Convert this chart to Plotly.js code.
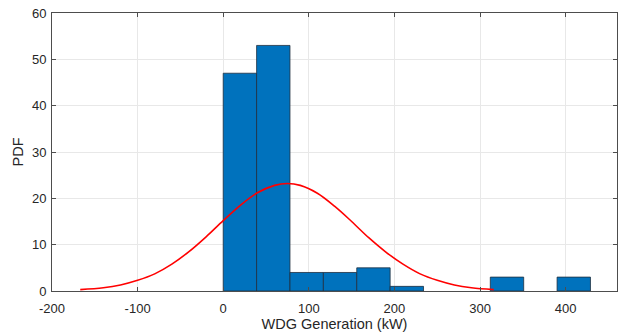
<!DOCTYPE html>
<html>
<head>
<meta charset="utf-8">
<script src="https://cdn.plot.ly/plotly-3.0.1.min.js"></script>
<style>html,body{margin:0;padding:0;background:#fff;}#chart{width:619px;height:336px;}</style>
</head>
<body>
<div id="chart"></div>
<script>
// Histogram bin edges (kW) and counts
const binEdges = [0, 39, 78, 117, 156, 195, 234, 273, 312, 351, 390, 429];
const binCounts = [47, 53, 4, 4, 5, 1, 0, 0, 3, 0, 3];

const curveX = [-167, -140, -120, -100, -80, -60, -40, -20, 0, 20, 40, 60, 75, 90, 110, 130, 150, 170, 190, 210, 230, 250, 270, 290, 316];
const curveY = [0.3, 0.7, 1.3, 2.3, 3.7, 5.8, 8.5, 11.7, 15.2, 18.5, 21.2, 22.8, 23.2, 22.8, 21.1, 18.3, 15.0, 11.5, 8.4, 5.8, 3.7, 2.3, 1.3, 0.7, 0.3];

const xTicks = [-200, -100, 0, 100, 200, 300, 400];
const yTicks = [0, 10, 20, 30, 40, 50, 60];

const centers = [], widths = [], outline = [];
for (let i = 0; i < binCounts.length; i++) {
  centers.push((binEdges[i] + binEdges[i + 1]) / 2);
  widths.push(binEdges[i + 1] - binEdges[i]);
  outline.push(binCounts[i] > 0 ? 0.8 : 0);
}

const bars = {
  type: 'bar', x: centers, y: binCounts, width: widths,
  marker: {color: '#0072BD', line: {color: '#1f2f3f', width: outline}},
  hoverinfo: 'skip', showlegend: false
};
const curve = {
  type: 'scatter', mode: 'lines', x: curveX, y: curveY,
  line: {color: '#ff0000', width: 1.6, shape: 'spline', smoothing: 1.0},
  hoverinfo: 'skip', showlegend: false
};

const axisCommon = {
  showline: true, linecolor: '#4d4d4d', linewidth: 1, mirror: 'ticks',
  ticks: 'inside', ticklen: 4, tickcolor: '#4d4d4d', tickwidth: 1,
  showgrid: true, gridcolor: '#e8e8e8', gridwidth: 1, zeroline: false,
  tickfont: {family: 'Liberation Sans, Arial, sans-serif', size: 13, color: '#262626'}
};

const layout = {
  width: 619, height: 336,
  margin: {l: 52, r: 2, t: 13, b: 45},
  paper_bgcolor: '#ffffff', plot_bgcolor: '#ffffff',
  bargap: 0,
  xaxis: Object.assign({}, axisCommon, {
    range: [-200, 460], tickmode: 'array', tickvals: xTicks, ticktext: xTicks.map(String),
    ticklabelstandoff: 5,
    title: {text: 'WDG Generation (kW)', standoff: 4,
      font: {family: 'Liberation Sans, Arial, sans-serif', size: 14.5, color: '#262626'}}
  }),
  yaxis: Object.assign({}, axisCommon, {
    range: [0, 60], tickmode: 'array', tickvals: yTicks, ticktext: yTicks.map(String),
    ticklabelstandoff: 2,
    title: {text: 'PDF', standoff: 4,
      font: {family: 'Liberation Sans, Arial, sans-serif', size: 14.5, color: '#262626'}}
  })
};

Plotly.newPlot('chart', [bars, curve], layout, {staticPlot: true, displayModeBar: false});
</script>
</body>
</html>
